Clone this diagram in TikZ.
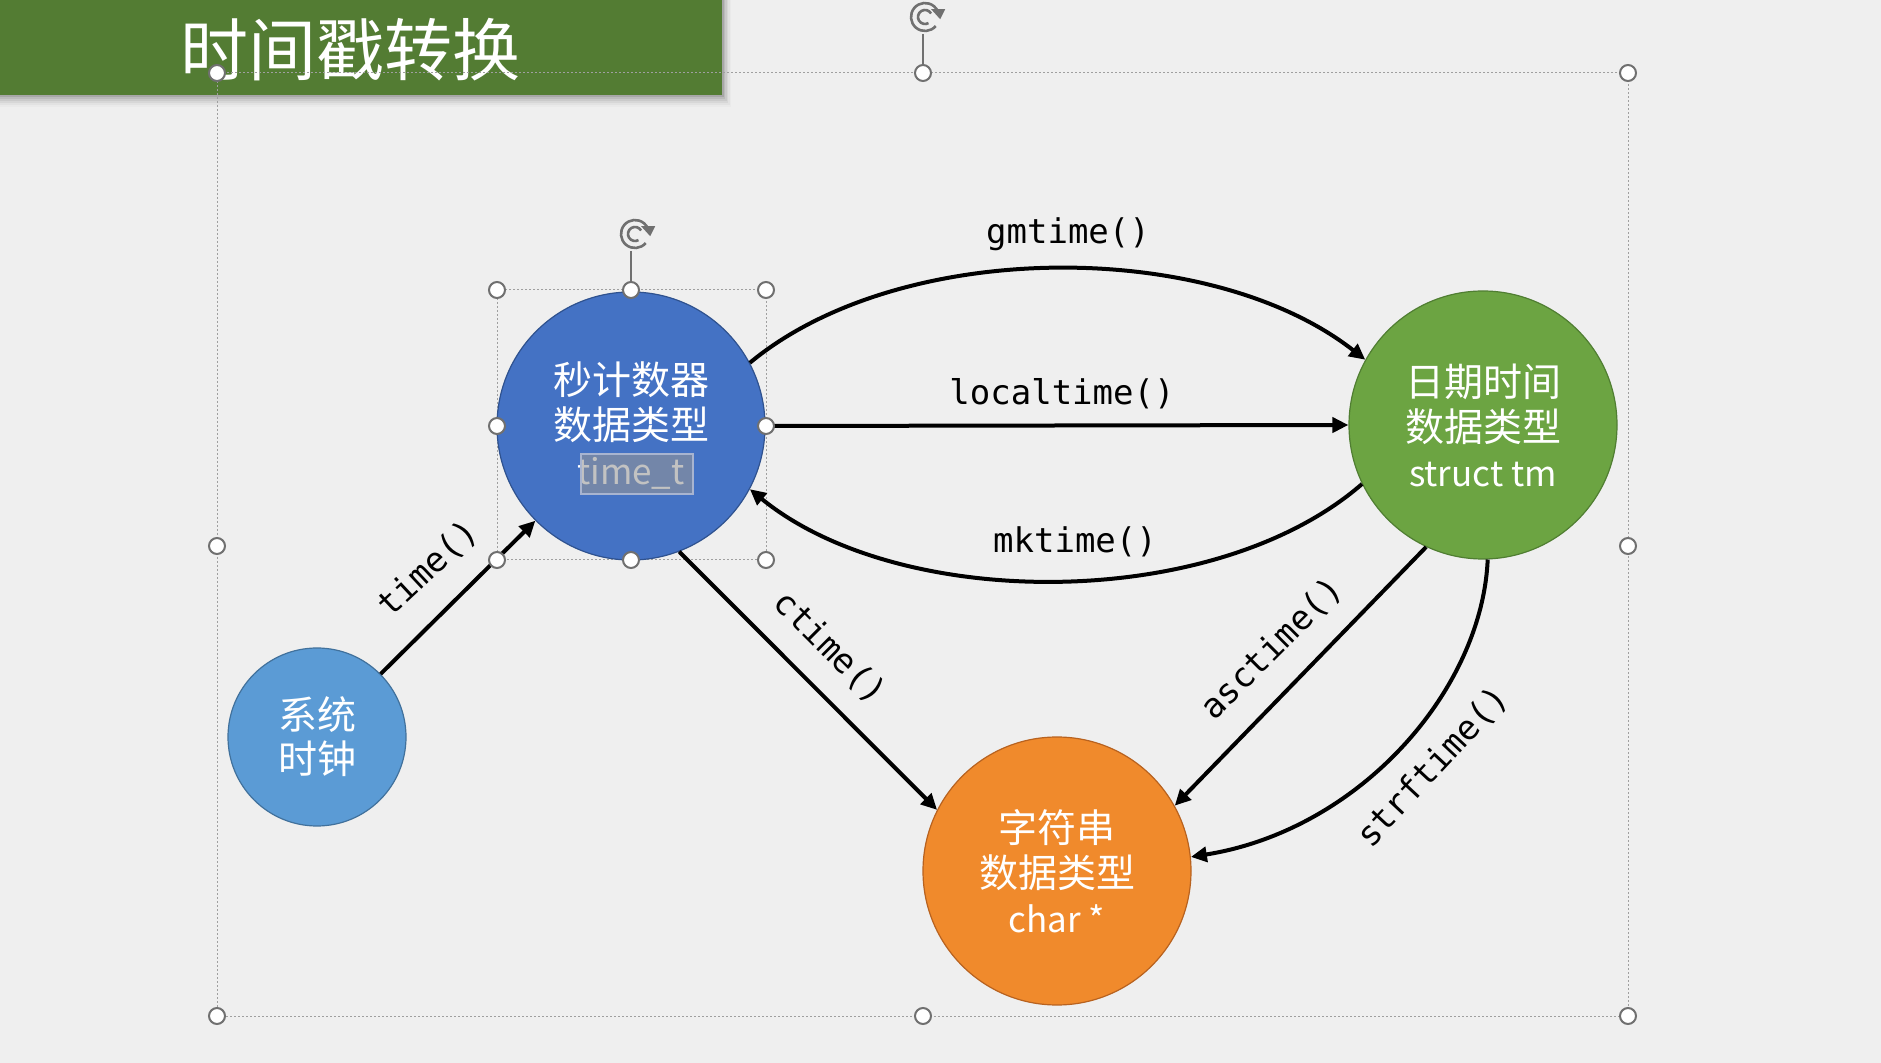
\documentclass[tikz,border=0pt]{standalone}
\usepackage{fontspec}
\usetikzlibrary{arrows.meta}
\newfontfamily\cjk{Noto Sans CJK SC}
\newfontfamily\code{DejaVu Sans Mono}
\definecolor{bg}{HTML}{EFEFEF}
\definecolor{bargreen}{HTML}{537C33}
\definecolor{secblue}{HTML}{4472C4}
\definecolor{secblueD}{HTML}{2F528F}
\definecolor{tmgreen}{HTML}{6CA442}
\definecolor{tmgreenD}{HTML}{507E32}
\definecolor{clkblue}{HTML}{5B9BD5}
\definecolor{clkblueD}{HTML}{41719C}
\definecolor{strorange}{HTML}{F08A2C}
\definecolor{strorangeD}{HTML}{B8621F}
\definecolor{handlegray}{HTML}{707070}
\definecolor{hlgray}{HTML}{969696}
\definecolor{hlborder}{HTML}{A8B4D0}
\newcommand{\latin}[1]{{\fontsize{17.5}{22.5}\selectfont #1}}

\begin{document}
\begin{tikzpicture}[x=0.5pt,y=-0.5pt,
  bubble/.style={circle, inner sep=0pt, text=white, align=center,
    font=\cjk\fontsize{19.5}{22.5}\selectfont, line width=0.6pt},
  conn/.style={line width=2pt, -{Triangle[length=8pt,width=7.5pt]}},
  fn/.style={font=\code\fontsize{17}{20}\selectfont, inner sep=0pt},
  handle/.style={circle, fill=white, draw=handlegray, line width=1pt,
    minimum size=8pt, inner sep=0pt},
  selbox/.style={draw=gray!75, line width=0.5pt, dash pattern=on 1pt off 1pt},
  rotline/.style={draw=handlegray, line width=0.6pt}]

% page background
\fill[bg] (0,0) rectangle (1881,1063);
\useasboundingbox (0,0) rectangle (1881,1063);

% title bar with soft shadow
\foreach \i/\op in {1/0.10,2/0.08,3/0.06,4/0.045,5/0.03,6/0.02}
  \fill[black,opacity=\op] (0,0) rectangle (722+\i*1.5, 95+\i*2);
\fill[bargreen] (0,0) rectangle (722,95);
\node[text=white, font=\cjk\fontsize{34}{40}\selectfont, inner sep=0pt]
  (title) at (350,50) {时间戳转换};

% outer selection frame
\draw[selbox] (217,73) rectangle (1628,1016);
% inner selection frame around the seconds node
\draw[selbox] (497,290) rectangle (766,560);

% data-type bubbles
\node[bubble, fill=secblue, draw=secblueD, minimum size=134pt]
  (sec) at (631,426) {秒计数器\\数据类型\\\latin{time\_t}};
\node[bubble, fill=tmgreen, draw=tmgreenD, minimum size=134pt]
  (tm) at (1483,425) {日期时间\\数据类型\\\latin{struct tm}};
\node[bubble, fill=clkblue, draw=clkblueD, minimum size=89pt,
  font=\cjk\fontsize{19.5}{22}\selectfont]
  (clock) at (317,737) {系统\\时钟};
\node[bubble, fill=strorange, draw=strorangeD, minimum size=134pt]
  (str) at (1057,871) {字符串\\数据类型\\\latin{char *}};

% text selection highlight over time_t
\fill[hlgray, opacity=0.58] (581,454) rectangle (693,494);
\draw[hlborder, line width=0.6pt] (581,454) rectangle (693,494);

% conversions
\draw[conn] (clock) -- (sec);
\draw[conn] (sec.28) .. controls (900,238) and (1210,238) .. (tm.151);
\draw[conn] (sec.east) -- (tm.west);
\draw[conn] (tm.206) .. controls (1215,612) and (900,612) .. (sec.332);
\draw[conn] (sec.291) -- (str.153);
\draw[conn] (tm.245) -- (str.29);
\draw[conn] (tm.272) .. controls (1482,690) and (1360,830) .. (str.6);

% function labels
\node[fn] (lgm)   at (1068,234) {gmtime()};
\node[fn] (lloc)  at (1062,394) {localtime()};
\node[fn] (lmk)   at (1075,542) {mktime()};
\node[fn, rotate=43]  (ltime) at (428,569) {time()};
\node[fn, rotate=-45] (lct)   at (830,648) {ctime()};
\node[fn, rotate=45]  (lasc)  at (1272,649) {asctime()};
\node[fn, rotate=47]  (lstrf) at (1433,767) {strftime()};

% rotation grips
\coordinate (rotA) at (925,17);
\coordinate (rotB) at (635,234);
\draw[rotline] (923,34) -- (923,73);
\draw[rotline] (631,251) -- (631,290);
\foreach \c in {rotA,rotB}{
  \draw[handlegray, line width=1.3pt] (\c) ++(40:14) arc[start angle=40, end angle=340, radius=14];
  \draw[handlegray, line width=1.3pt] (\c) ++(60:7) arc[start angle=60, end angle=330, radius=7];
  \fill[handlegray] (\c) ++(340:14) ++(-7,-3) -- ++(14,0) -- ++(-5,10) -- cycle;
}

% sizing handles of the outer frame
\foreach \p in {(217,73),(923,73),(1628,73),(217,546),(1628,546),
                (217,1016),(923,1016),(1628,1016)}
  \node[handle] at \p {};
% sizing handles of the inner frame
\foreach \p in {(497,290),(631,290),(766,290),(497,426),(766,426),
                (497,560),(631,560),(766,560)}
  \node[handle] at \p {};
\end{tikzpicture}
\end{document}
